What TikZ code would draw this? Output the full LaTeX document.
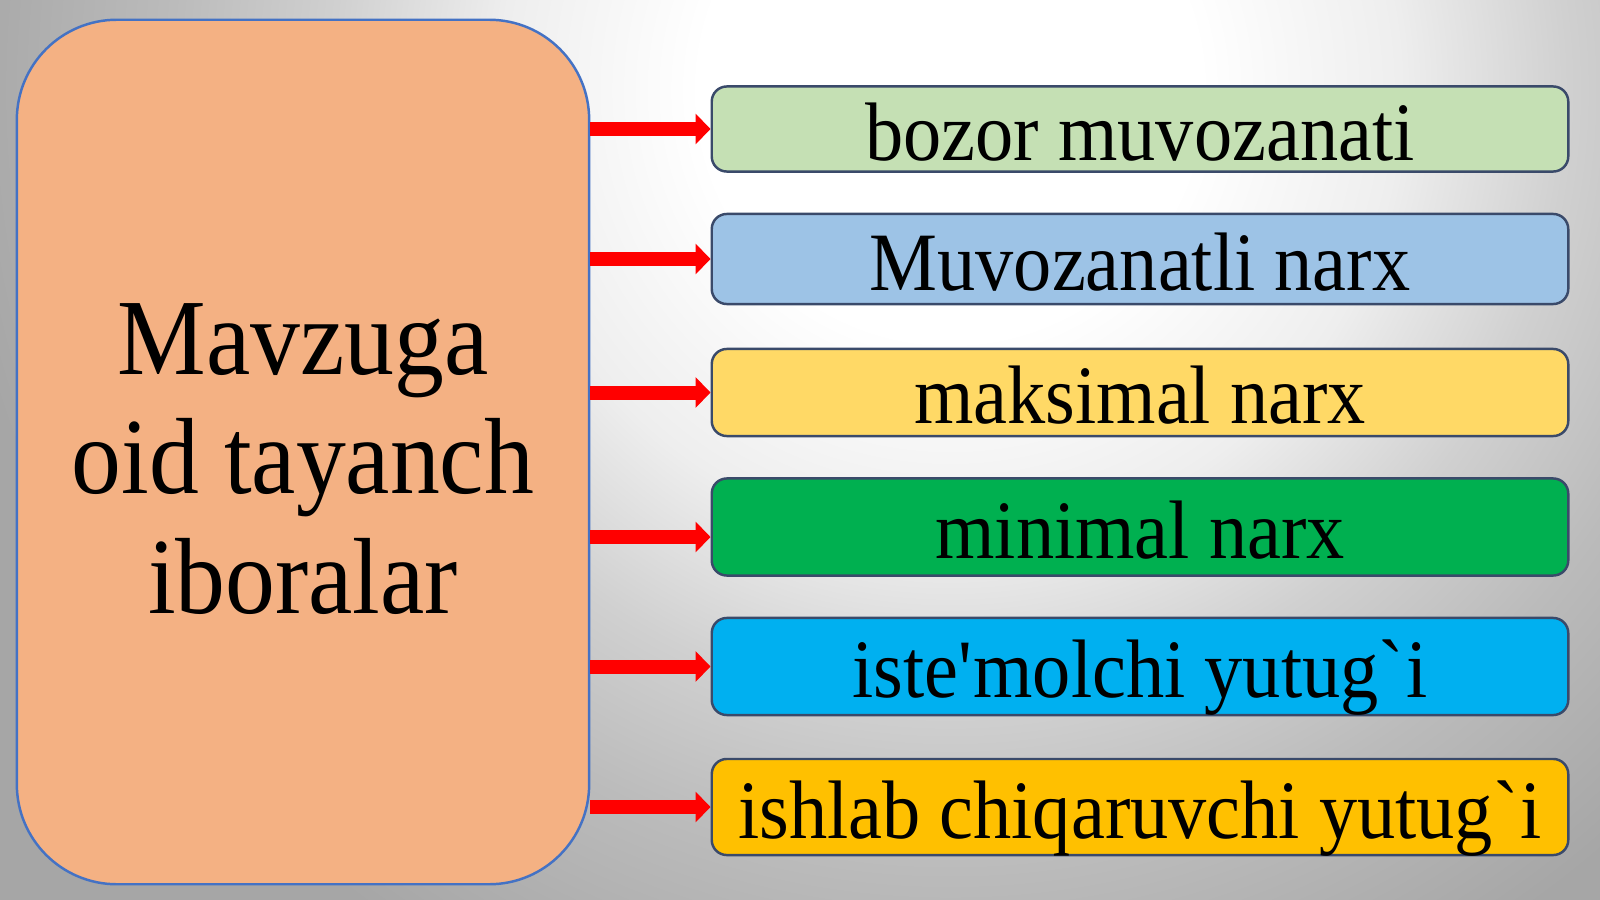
\documentclass[tikz,border=0pt]{standalone}
\usepackage{fontspec}
\setmainfont[FakeStretch=0.92]{Liberation Serif}
\usetikzlibrary{arrows.meta}
\definecolor{bggray}{HTML}{A6A6A6}
\definecolor{bgA}{HTML}{EEEEEE}
\definecolor{bgB}{HTML}{D0D0D0}
\definecolor{bgC}{HTML}{BBBBBB}
\definecolor{lfill}{HTML}{F4B183}
\definecolor{lline}{HTML}{4472C4}
\definecolor{rline}{HTML}{3A4A6A}
\definecolor{cA}{HTML}{C5E0B4}
\definecolor{cB}{HTML}{9DC3E6}
\definecolor{cC}{HTML}{FFD966}
\definecolor{cD}{HTML}{00B050}
\definecolor{cE}{HTML}{00B0F0}
\definecolor{cF}{HTML}{FFC000}
\definecolor{arred}{HTML}{FF0000}
\pgfdeclareradialshading{bgshade}{\pgfpoint{0pt}{0pt}}{color(0pt)=(white); color(71pt)=(white); color(128pt)=(bgA); color(176pt)=(bgB); color(222pt)=(bgC); color(285pt)=(bggray); color(313pt)=(bggray)}
\begin{document}
\begin{tikzpicture}[x=0.01cm,y=-0.01cm,
  rbox/.style={draw=rline, line width=0.7pt, rounded corners=0.15cm,
    minimum width=8.56cm, inner sep=0pt, text height=0.62cm, text depth=0cm,
    font=\fontsize{23.6}{28}\selectfont},
  lbox/.style={draw=lline, line width=0.7pt, fill=lfill, rounded corners=1cm,
    minimum width=5.72cm, minimum height=8.64cm, inner sep=0pt},
  ltext/.style={align=center, inner sep=0pt, font=\fontsize{30.8}{33.9}\selectfont},
  arr/.style={draw=arred, line width=0.14cm, -{Triangle[length=0.15cm,width=0.30cm]}}]
\useasboundingbox (0,0) rectangle (1600,900);
\begin{scope}
\clip (0,0) rectangle (1600,900);
\fill[bggray] (0,0) rectangle (1600,900);
\node[inner sep=0pt, outer sep=0pt] (bg) at (950,90) {\pgfuseshading{bgshade}};
\end{scope}
\node[lbox] (L) at (303,452) {};
\node[ltext] (Lt) at ([yshift=-0.07cm]L.center) {Mavzuga\\oid tayanch\\iboralar};
\node[rbox, fill=cA, minimum height=0.85cm] (b1) at (1140,129) {bozor muvozanati};
\node[rbox, fill=cB, minimum height=0.90cm] (b2) at (1140,259) {Muvozanatli narx};
\node[rbox, fill=cC, minimum height=0.87cm] (b3) at (1140,392.5) {maksimal narx};
\node[rbox, fill=cD, minimum height=0.97cm] (b4) at (1140,527) {minimal narx};
\node[rbox, fill=cE, minimum height=0.97cm] (b5) at (1140,666.5) {iste\textquotesingle molchi yutug\textasciigrave i};
\node[rbox, fill=cF, minimum height=0.96cm] (b6) at (1140,807) {ishlab chiqaruvchi yutug\textasciigrave i};
\coordinate (a4) at ([yshift=-0.1cm]b4.west);
\draw[arr] (L.east |- b1.west) -- (b1.west);
\draw[arr] (L.east |- b2.west) -- (b2.west);
\draw[arr] (L.east |- b3.west) -- (b3.west);
\draw[arr] (L.east |- a4) -- (a4);
\draw[arr] (L.east |- b5.west) -- (b5.west);
\draw[arr] (L.east |- b6.west) -- (b6.west);
\end{tikzpicture}
\end{document}
